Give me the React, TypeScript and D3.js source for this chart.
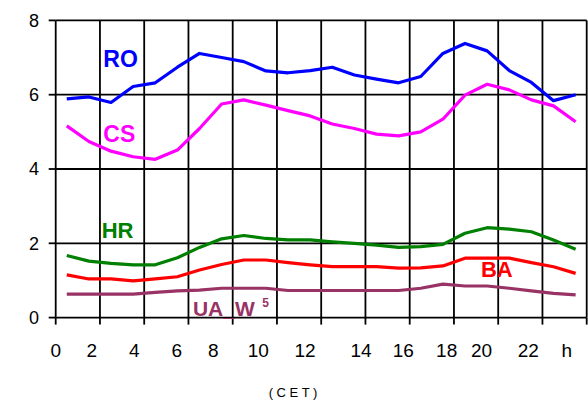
import React from "react";
import * as d3 from "d3";

// Hour positions of the data points (half-hour centres)
const hours: number[] = d3.range(24).map((h) => h + 0.5);

const RO: number[] = [5.89, 5.94, 5.79, 6.22, 6.32, 6.74, 7.11, 7.0, 6.89, 6.64, 6.59, 6.65, 6.74, 6.53, 6.42, 6.32, 6.49, 7.11, 7.38, 7.18, 6.65, 6.33, 5.84, 6.0];
const CS: number[] = [5.16, 4.74, 4.48, 4.33, 4.26, 4.51, 5.09, 5.75, 5.86, 5.72, 5.57, 5.43, 5.21, 5.09, 4.94, 4.89, 5.0, 5.34, 5.99, 6.28, 6.13, 5.86, 5.7, 5.27];
const HR: number[] = [1.67, 1.52, 1.46, 1.42, 1.42, 1.61, 1.89, 2.12, 2.21, 2.13, 2.09, 2.09, 2.04, 2.0, 1.95, 1.89, 1.91, 1.97, 2.27, 2.42, 2.38, 2.31, 2.09, 1.84];
const BA: number[] = [1.15, 1.04, 1.04, 0.99, 1.04, 1.1, 1.28, 1.43, 1.55, 1.55, 1.48, 1.42, 1.37, 1.37, 1.37, 1.33, 1.34, 1.39, 1.6, 1.6, 1.6, 1.48, 1.37, 1.19];
const UA_W: number[] = [0.63, 0.63, 0.63, 0.63, 0.68, 0.72, 0.74, 0.79, 0.79, 0.79, 0.73, 0.73, 0.73, 0.73, 0.73, 0.73, 0.79, 0.9, 0.85, 0.85, 0.79, 0.72, 0.65, 0.61];

const yTicks: number[] = [0, 2, 4, 6, 8];
const gridHours: number[] = d3.range(0, 25, 2);
const xTickLabels: string[] = ["0", "2", "4", "6", "8", "10", "12", "14", "16", "18", "20", "22", "h"];
const xTickLabelHours: number[] = [0, 1.63, 3.55, 5.47, 7.12, 9.16, 11.27, 13.8, 15.71, 17.67, 19.25, 21.36, 23.1];

const series = [
  { name: "UA_W", values: UA_W, color: "#993366" },
  { name: "BA", values: BA, color: "#FF0000" },
  { name: "HR", values: HR, color: "#008000" },
  { name: "CS", values: CS, color: "#FF00FF" },
  { name: "RO", values: RO, color: "#0000FF" },
];

// Series name annotations, anchored in data units (hour, value)
const annotations = [
  { text: "RO", hour: 2.15, value: 6.75, color: "#0000FF", size: 23 },
  { text: "CS", hour: 2.15, value: 4.73, color: "#FF00FF", size: 23 },
  { text: "HR", hour: 2.08, value: 2.13, color: "#008000", size: 22 },
  { text: "BA", hour: 19.22, value: 1.1, color: "#FF0000", size: 22 },
  { text: "UA_W", hour: 6.2, value: 0.05, color: "#993366", size: 21 },
  { text: "5", hour: 9.33, value: 0.285, color: "#993366", size: 12 },
];

const W = 588;
const H = 403;
const left = 55.7;
const right = 586.7;
const top = 20.4;
const bottom = 317.6;

export default function App() {
  const x = d3.scaleLinear().domain([0, 24]).range([left, right]);
  const y = d3.scaleLinear().domain([0, 8]).range([bottom, top]);
  const line = d3
    .line<number>()
    .x((_, i) => x(hours[i]))
    .y((d) => y(d));
  const font = "'Liberation Sans', Arial, sans-serif";

  return (
    <svg
      width={W}
      height={H}
      style={{ position: "absolute", left: 0, top: 0, background: "#fff" }}
      fontFamily={font}
    >
      {/* horizontal gridlines */}
      {yTicks.map((t) => (
        <line key={"h" + t} x1={left} x2={right} y1={y(t)} y2={y(t)} stroke="#000" strokeWidth={1.8} />
      ))}
      {/* vertical gridlines */}
      {gridHours.map((h) => (
        <line key={"v" + h} x1={x(h)} x2={x(h)} y1={top} y2={bottom} stroke="#000" strokeWidth={1.8} />
      ))}
      {/* y ticks */}
      {yTicks.map((t) => (
        <line key={"yt" + t} x1={left - 7} x2={left} y1={y(t)} y2={y(t)} stroke="#000" strokeWidth={1.8} />
      ))}
      {/* x ticks */}
      {gridHours.map((h) => (
        <line key={"xt" + h} x1={x(h)} x2={x(h)} y1={bottom} y2={bottom + 7} stroke="#000" strokeWidth={1.8} />
      ))}
      {/* y labels */}
      {yTicks.map((t) => (
        <text key={"yl" + t} x={39} y={y(t)} dy="0.36em" textAnchor="end" fontSize={18} fill="#000">
          {t}
        </text>
      ))}
      {/* x labels */}
      {xTickLabels.map((l, i) => (
        <text key={"xl" + i} x={x(xTickLabelHours[i])} y={356.5} textAnchor="middle" fontSize={19} fill="#000">
          {l}
        </text>
      ))}
      <text x={293} y={397} textAnchor="middle" fontSize={13} fill="#000">
        ( C E T )
      </text>
      {/* series */}
      {series.map((s) => (
        <path key={s.name} d={line(s.values) || ""} fill="none" stroke={s.color} strokeWidth={3.2} strokeLinejoin="round" />
      ))}
      {annotations.map((a) => (
        <text key={a.text} x={x(a.hour)} y={y(a.value)} fontSize={a.size} fontWeight="bold" fill={a.color}>
          {a.text}
        </text>
      ))}
    </svg>
  );
}
